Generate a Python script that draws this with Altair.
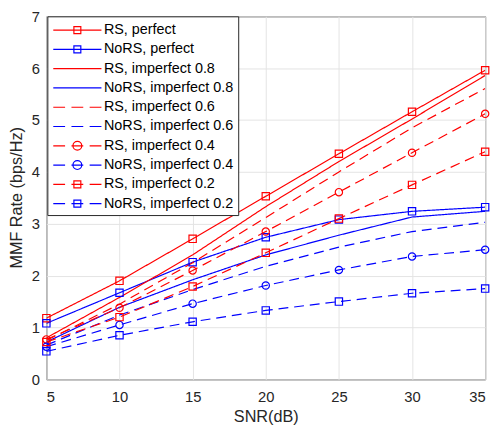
import altair as alt
import pandas as pd

snr = [5, 10, 15, 20, 25, 30, 35]

series = ["RS, perfect", "NoRS, perfect",
          "RS, imperfect 0.8", "NoRS, imperfect 0.8",
          "RS, imperfect 0.6", "NoRS, imperfect 0.6",
          "RS, imperfect 0.4", "NoRS, imperfect 0.4",
          "RS, imperfect 0.2", "NoRS, imperfect 0.2"]

rs_perfect = [1.18, 1.90, 2.71, 3.53, 4.35, 5.16, 5.96]
nors_perfect = [1.08, 1.67, 2.26, 2.74, 3.08, 3.24, 3.32]
rs_08 = [0.80, 1.58, 2.40, 3.33, 4.20, 5.02, 5.86]
nors_08 = [0.72, 1.39, 1.92, 2.40, 2.78, 3.13, 3.24]
rs_06 = [0.75, 1.45, 2.25, 3.12, 4.00, 4.85, 5.61]
nors_06 = [0.66, 1.24, 1.73, 2.18, 2.55, 2.85, 3.03]
rs_04 = [0.77, 1.38, 2.10, 2.85, 3.61, 4.37, 5.12]
nors_04 = [0.63, 1.05, 1.46, 1.81, 2.11, 2.37, 2.50]
rs_02 = [0.72, 1.20, 1.79, 2.44, 3.10, 3.75, 4.39]
nors_02 = [0.54, 0.85, 1.11, 1.33, 1.50, 1.66, 1.75]

values = [rs_perfect, nors_perfect, rs_08, nors_08, rs_06, nors_06,
          rs_04, nors_04, rs_02, nors_02]
colors = ["#FF0000", "#0000FF"] * 5
dashes = ["solid", "solid", "solid", "solid", "dash", "dash",
          "dash", "dash", "dash", "dash"]
markers = ["square", "square", None, None, None, None,
           "circle", "circle", "square", "square"]

# legend symbol paths (line + marker), unit square scaled by symbol size
seg_solid = "M-3.06,0H3.06"
seg_dash = "M-3.06,0H-1.56M-0.75,0H0.75M1.56,0H3.06"
sq = "M-0.44,-0.44H0.44V0.44H-0.44Z"
circ = "M0.56,0A0.56,0.56,0,1,1,-0.56,0A0.56,0.56,0,1,1,0.56,0Z"
legend_paths = []
for d, m in zip(dashes, markers):
    p = seg_solid if d == "solid" else seg_dash
    if m == "square":
        p += sq
    elif m == "circle":
        p += circ
    legend_paths.append(p)

rows = []
for s, vals, c, d, m in zip(series, values, colors, dashes, markers):
    for x, v in zip(snr, vals):
        rows.append({"series": s, "snr": x, "rate": v, "col": c,
                     "dash": d, "marker": m if m else "none"})
df = pd.DataFrame(rows)
df_mark = df[df["marker"] != "none"]
df_leg = pd.DataFrame({"series": series, "snr": [5] * 10, "rate": [0] * 10})

FONT = "Liberation Sans"

xenc = alt.X("snr:Q", scale=alt.Scale(domain=[5, 35], nice=False),
             axis=alt.Axis(values=snr, title="SNR(dB)", format="d",
                           labelPadding=11, titleY=43,
                           titleBaseline="alphabetic"))
yenc = alt.Y("rate:Q", scale=alt.Scale(domain=[0, 7], nice=False),
             axis=alt.Axis(values=list(range(8)), title="MMF Rate (bps/Hz)",
                           format="d", labelPadding=7, titleX=-30, titleY=184,
                           titleBaseline="middle"))

lines = alt.Chart(df).mark_line(strokeWidth=1.2, clip=True).encode(
    x=xenc, y=yenc,
    color=alt.Color("col:N", scale=None),
    strokeDash=alt.StrokeDash("dash:N",
                              scale=alt.Scale(domain=["solid", "dash"],
                                              range=[[1, 0], [10, 6]]),
                              legend=None),
    detail="series:N",
)

points = alt.Chart(df_mark).mark_point(filled=False, strokeWidth=1.2, size=55, opacity=1).encode(
    x="snr:Q", y="rate:Q",
    color=alt.Color("col:N", scale=None),
    shape=alt.Shape("marker:N", scale=None),
)

legend_layer = alt.Chart(df_leg).mark_point(filled=False, opacity=0).encode(
    x="snr:Q", y="rate:Q",
    color=alt.Color("series:N", scale=alt.Scale(domain=series, range=colors),
                    legend=alt.Legend(title=None, orient="none", legendX=1, legendY=0,
                                      fillColor="white", strokeColor="#262626",
                                      padding=5, rowPadding=3.6,
                                      symbolSize=256, symbolStrokeWidth=1.2,
                                      symbolOpacity=1, symbolOffset=16.5,
                                      labelOffset=18, labelFontSize=14.6,
                                      labelFont=FONT, labelColor="#000000",
                                      labelLimit=300)),
    shape=alt.Shape("series:N", scale=alt.Scale(domain=series, range=legend_paths)),
)

chart = alt.layer(lines, points, legend_layer).properties(
    width=446, height=369,
    padding={"left": 39, "top": 5, "right": 10, "bottom": 48},
    autosize=alt.AutoSizeParams(type="none"),
).configure_view(stroke="#262626", strokeWidth=1).configure_axis(
    grid=True, gridColor="#e3e3e3", gridWidth=1,
    domain=False, ticks=False, tickSize=0,
    labelFont=FONT, labelFontSize=15, labelColor="#262626",
    titleFont=FONT, titleFontSize=16.5, titleFontWeight="normal", titleColor="#262626",
)

chart.save("out.html", embed_options={"renderer": "svg", "actions": False})
